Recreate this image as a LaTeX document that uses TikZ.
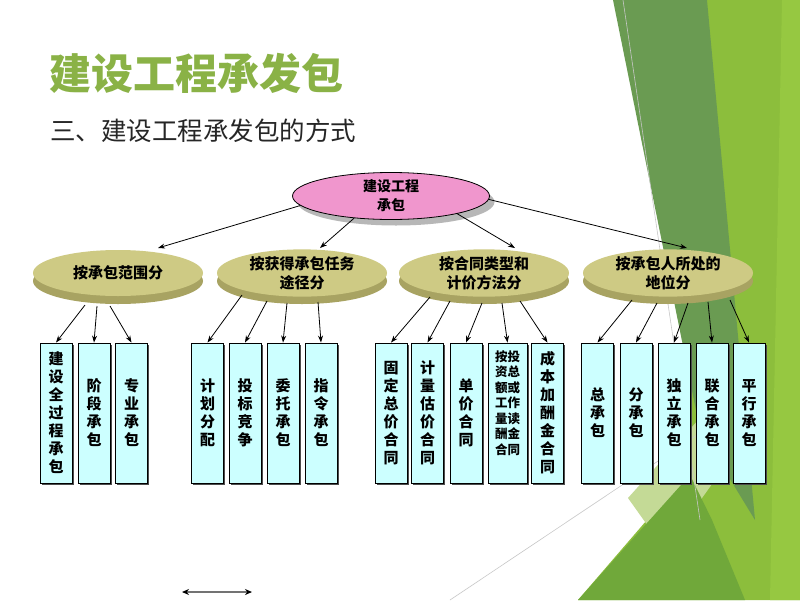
\documentclass[tikz,border=0pt]{standalone}
\usepackage{fontspec}
\newfontfamily\cjk{Noto Sans CJK SC}
\usetikzlibrary{shapes.geometric,arrows.meta,calc,shadows}
\definecolor{pinkf}{RGB}{240,150,205}
\definecolor{olivetop}{RGB}{206,202,132}
\definecolor{oliverim}{RGB}{168,163,98}
\definecolor{boxf}{RGB}{204,255,255}
\definecolor{lime}{RGB}{140,190,60}
\definecolor{limeb}{RGB}{150,200,65}
\definecolor{dkgreen}{RGB}{106,155,82}
\definecolor{mdgreen}{RGB}{112,168,58}
\definecolor{palegreen}{RGB}{196,218,150}
\definecolor{titlegreen}{RGB}{138,178,70}
\tikzset{
  root/.style={ellipse,draw=black,line width=0.8pt,fill=pinkf,minimum width=197pt,minimum height=47pt,inner sep=0pt,align=center,
    font=\cjk\bfseries\fontsize{14}{19}\selectfont,drop shadow={shadow xshift=5pt,shadow yshift=-6pt,fill=gray!70,opacity=0.8}},
  topface/.style={ellipse,fill=olivetop,minimum width=170pt,minimum height=46pt,inner sep=0pt,align=center,
    font=\cjk\bfseries\fontsize{15}{19}\selectfont},
  rimface/.style={ellipse,fill=oliverim,minimum width=170pt,minimum height=46pt,inner sep=0pt},
  leaf/.style={rectangle,draw=black,line width=0.9pt,fill=boxf,minimum width=32pt,minimum height=140pt,inner sep=0pt,align=center,
    font=\cjk\bfseries\fontsize{15}{18}\selectfont,drop shadow={shadow xshift=1.5pt,shadow yshift=-1.5pt,fill=black!70,opacity=1}},
  arr/.style={-{Stealth[length=7pt,width=5pt]},line width=0.8pt,black},
  bgline/.style={draw=black!22,line width=0.6pt}
}
\begin{document}
\begin{tikzpicture}[x=1pt,y=-1pt]
\useasboundingbox (0,0) rectangle (800,600);
\fill[white] (0,0) rectangle (800,600);
% background decoration
\fill[lime] (700,0) -- (800,0) -- (800,600) -- (578,600) -- (690,470) -- cycle;
\fill[limeb] (782,0) -- (800,0) -- (800,600) -- (770,600) -- cycle;
\fill[dkgreen] (613,0) -- (707,0) -- (755,520) -- (700,430) -- cycle;
\fill[palegreen] (628,498) -- (700,418) -- (722,470) -- (665,550) -- cycle;
\fill[mdgreen] (578,600) -- (690,475) -- (712,520) -- (745,600) -- cycle;
\coordinate (g1) at (623,0);
\coordinate (g2) at (700,520);
\coordinate (g3) at (450,600);
\coordinate (g4) at (700,433);
\draw[bgline] (g1) -- (g2);
\draw[bgline] (g3) -- (g4);
% title
\node[anchor=west,text=titlegreen,font=\cjk\bfseries\fontsize{42}{42}\selectfont,inner sep=0pt] (title) at (49,73) {建设工程承发包};
\node[anchor=west,text=black!85,font=\cjk\fontsize{25.5}{26}\selectfont,inner sep=0pt] (sub) at (50,131) {三、建设工程承发包的方式};
% root
\node[root] (R) at (391,196) {建设工程\\承包};
% level 2
\node[rimface] (E1r) at (118,281) {};
\node[rimface] (E2r) at (302,281) {};
\node[rimface] (E3r) at (484,281) {};
\node[rimface] (E4r) at (668,281) {};
\node[topface] (E1) at (118,273) {按承包范围分};
\node[topface] (E2) at (302,273) {按获得承包任务\\途径分};
\node[topface] (E3) at (484,273) {按合同类型和\\计价方法分};
\node[topface] (E4) at (668,273) {按承包人所处的\\地位分};
\draw[arr] (R.186) -- ($(E1.center)+(40,-25)$);
\draw[arr] (R.211) -- ($(E2.center)+(18,-25)$);
\draw[arr] (R.345) -- ($(E3.center)+(31,-25)$);
\draw[arr] (R.358) -- ($(E4.center)+(19,-25)$);
% leaves
\node[leaf] (a1) at (56,413) {建\\设\\全\\过\\程\\承\\包};
\node[leaf] (a2) at (94,413) {阶\\段\\承\\包};
\node[leaf] (a3) at (131.5,413) {专\\业\\承\\包};
\node[leaf] (b1) at (207.5,413) {计\\划\\分\\配};
\node[leaf] (b2) at (245,413) {投\\标\\竞\\争};
\node[leaf] (b3) at (283,413) {委\\托\\承\\包};
\node[leaf] (b4) at (321,413) {指\\令\\承\\包};
\node[leaf] (c1) at (391,413) {固\\定\\总\\价\\合\\同};
\node[leaf] (c2) at (427.5,413) {计\\量\\估\\价\\合\\同};
\node[leaf] (c3) at (466,413) {单\\价\\合\\同};
\node[leaf,minimum width=39pt,font=\cjk\bfseries\fontsize{12.5}{15.5}\selectfont] (c4) at (507.5,413) {按投\\资总\\额或\\工作\\量读\\酬金\\合同\\[6pt]};
\node[leaf] (c5) at (547.5,413) {成\\本\\加\\酬\\金\\合\\同};
\node[leaf] (d1) at (597.5,413) {总\\承\\包};
\node[leaf] (d2) at (636,413) {分\\承\\包};
\node[leaf] (d3) at (674,413) {独\\立\\承\\包};
\node[leaf] (d4) at (712,413) {联\\合\\承\\包};
\node[leaf] (d5) at (749,413) {平\\行\\承\\包};
% level 2 -> leaves
\draw[arr] ($(E1.center)+(-33,32)$) -- (a1.north);
\draw[arr] ($(E1.center)+(-21,33)$) -- (a2.north);
\draw[arr] ($(E1.center)+(-8,33)$) -- (a3.north);
\draw[arr] ($(E2.center)+(-60,22)$) -- (b1.north);
\draw[arr] ($(E2.center)+(-35,28)$) -- (b2.north);
\draw[arr] ($(E2.center)+(-15,30)$) -- (b3.north);
\draw[arr] ($(E2.center)+(16,29)$) -- (b4.north);
\draw[arr] ($(E3.center)+(-54,24)$) -- (c1.north);
\draw[arr] ($(E3.center)+(-34,28)$) -- (c2.north);
\draw[arr] ($(E3.center)+(-2,30)$) -- (c3.north);
\draw[arr] ($(E3.center)+(18,30)$) -- (c4.north);
\draw[arr] ($(E3.center)+(36,28)$) -- (c5.north);
\draw[arr] ($(E4.center)+(-36,27)$) -- (d1.north);
\draw[arr] ($(E4.center)+(-11,30)$) -- (d2.north);
\draw[arr] ($(E4.center)+(20,30)$) -- (d3.north);
\draw[arr] ($(E4.center)+(40,29)$) -- (d4.north);
\draw[arr] ($(E4.center)+(62,27)$) -- (d5.north);
% bottom double arrow
\coordinate (h1) at (182,592);
\coordinate (h2) at (252,592);
\draw[{Stealth[length=7pt,width=6pt,color=black]}-{Stealth[length=7pt,width=6pt,color=black]},line width=1.2pt,draw=black!55] (h1) -- (h2);
\end{tikzpicture}
\end{document}
